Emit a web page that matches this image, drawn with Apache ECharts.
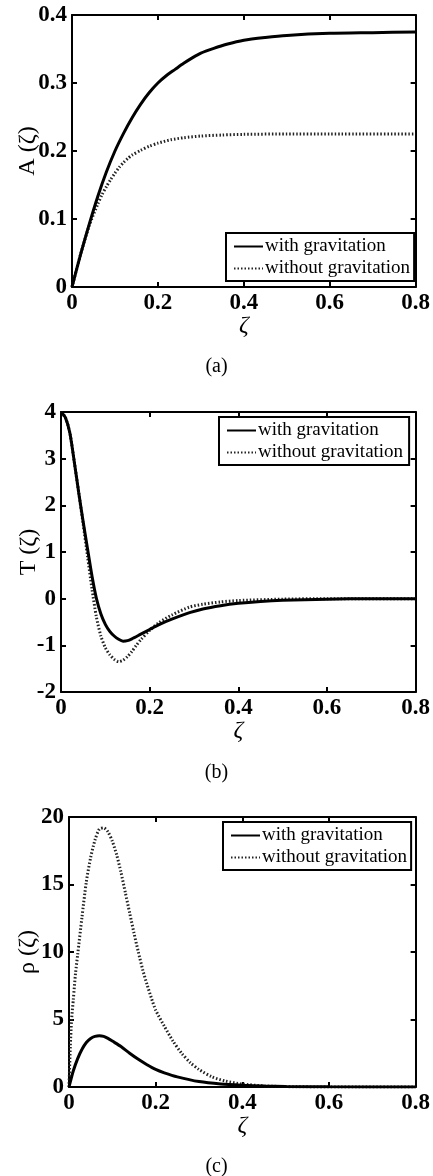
<!DOCTYPE html>
<html>
<head>
<meta charset="utf-8">
<script src="https://cdn.jsdelivr.net/npm/echarts@6/dist/echarts.min.js"></script>
<style>
  html, body { margin: 0; padding: 0; background: #fff; }
  #chart { width: 433px; height: 1176px; }
</style>
</head>
<body>
<div id="chart"></div>
<script>
// x tick labels shared by all panels
const zetaTicks = [0, 0.2, 0.4, 0.6, 0.8];
const seriesNames = ['with gravitation', 'without gravitation'];

// (a) A(zeta)
const aZetaWith = [0, 0.02, 0.04, 0.06, 0.08, 0.1, 0.12, 0.14, 0.16, 0.18, 0.2, 0.22, 0.24, 0.26, 0.28, 0.3, 0.33, 0.36, 0.4, 0.45, 0.5, 0.6, 0.7, 0.8];
const aWith = [0, 0.048, 0.092, 0.133, 0.169, 0.2, 0.226, 0.249, 0.269, 0.286, 0.3, 0.311, 0.32, 0.329, 0.337, 0.344, 0.351, 0.357, 0.363, 0.367, 0.37, 0.373, 0.374, 0.375];
const aZetaWithout = [0, 0.02, 0.04, 0.06, 0.07, 0.08, 0.09, 0.1, 0.11, 0.12, 0.13, 0.14, 0.16, 0.18, 0.2, 0.23, 0.26, 0.3, 0.35, 0.4, 0.5, 0.6, 0.8];
const aWithout = [0, 0.048, 0.09, 0.122, 0.136, 0.1475, 0.158, 0.1675, 0.176, 0.183, 0.189, 0.194, 0.201, 0.207, 0.2115, 0.2165, 0.2195, 0.222, 0.2235, 0.2245, 0.225, 0.225, 0.225];

// (b) T(zeta)
const bZetaWith = [0, 0.01, 0.02, 0.03, 0.04, 0.05, 0.06, 0.07, 0.08, 0.09, 0.1, 0.11, 0.12, 0.13, 0.14, 0.15, 0.16, 0.18, 0.2, 0.22, 0.25, 0.29, 0.32, 0.36, 0.4, 0.45, 0.5, 0.6, 0.7, 0.8];
const bWith = [4.0, 3.88, 3.55, 2.93, 2.27, 1.65, 1.06, 0.48, 0.0, -0.33, -0.55, -0.7, -0.8, -0.87, -0.91, -0.9, -0.86, -0.76, -0.66, -0.56, -0.44, -0.3, -0.22, -0.15, -0.1, -0.06, -0.035, -0.01, 0, 0];
const bZetaWithout = [0, 0.01, 0.02, 0.03, 0.04, 0.05, 0.06, 0.07, 0.08, 0.09, 0.1, 0.11, 0.12, 0.13, 0.14, 0.15, 0.16, 0.17, 0.18, 0.2, 0.22, 0.25, 0.29, 0.32, 0.36, 0.4, 0.5, 0.6, 0.8];
const bWithout = [4.0, 3.88, 3.55, 2.93, 2.27, 1.6, 0.9, 0.2, -0.4, -0.8, -1.05, -1.2, -1.3, -1.35, -1.32, -1.24, -1.13, -1.0, -0.88, -0.68, -0.52, -0.35, -0.18, -0.12, -0.07, -0.04, -0.01, 0, 0];

// (c) rho(zeta)
const cZetaWith = [0, 0.01, 0.02, 0.03, 0.04, 0.05, 0.06, 0.07, 0.08, 0.09, 0.1, 0.12, 0.14, 0.16, 0.18, 0.2, 0.22, 0.25, 0.3, 0.35, 0.4, 0.45, 0.5, 0.6, 0.8];
const cWith = [0, 1.2, 2.1, 2.8, 3.3, 3.6, 3.75, 3.8, 3.75, 3.6, 3.4, 3.0, 2.5, 2.05, 1.65, 1.3, 1.05, 0.75, 0.4, 0.22, 0.13, 0.07, 0.04, 0.01, 0];
const cZetaWithout = [0, 0.003, 0.006, 0.01, 0.015, 0.02, 0.03, 0.04, 0.05, 0.06, 0.07, 0.08, 0.09, 0.1, 0.11, 0.12, 0.13, 0.14, 0.15, 0.16, 0.17, 0.18, 0.19, 0.2, 0.22, 0.24, 0.26, 0.28, 0.3, 0.33, 0.36, 0.4, 0.45, 0.5, 0.6, 0.8];
const cWithout = [0, 3, 5, 6.5, 8.4, 9.8, 12.6, 15.2, 17.0, 18.3, 19.1, 19.2, 18.9, 18.2, 17.2, 15.9, 14.4, 12.9, 11.4, 10.0, 8.7, 7.6, 6.6, 5.7, 4.5, 3.4, 2.5, 1.8, 1.3, 0.75, 0.45, 0.22, 0.08, 0.03, 0, 0];

const FONT = 'Liberation Serif';

const chart = echarts.init(document.getElementById('chart'));

const zip = (xs, ys) => xs.map((x, i) => [x, ys[i]]);

const panels = [
  { grid: { left: 72, top: 15, width: 345, height: 272 }, yMin: 0, yMax: 0.4, yStep: 0.1, yName: 'A (ζ)', yNameGap: 32,
    legend: { left: 226, top: 233, padRight: 4 }, caption: { text: '(a)', top: 352 },
    with: zip(aZetaWith, aWith), without: zip(aZetaWithout, aWithout) },
  { grid: { left: 61, top: 412, width: 356, height: 280 }, yMin: -2, yMax: 4, yStep: 1, yName: 'T (ζ)', yNameGap: 20,
    legend: { left: 219, top: 417, padRight: 6 }, caption: { text: '(b)', top: 758 },
    with: zip(bZetaWith, bWith), without: zip(bZetaWithout, bWithout) },
  { grid: { left: 69, top: 817, width: 348, height: 270 }, yMin: 0, yMax: 20, yStep: 5, yName: 'ρ (ζ)', yNameGap: 29,
    legend: { left: 223, top: 822, padRight: 4 }, caption: { text: '(c)', top: 1152 },
    with: zip(cZetaWith, cWith), without: zip(cZetaWithout, cWithout) }
];

const grid = [], xAxis = [], yAxis = [], series = [], legend = [], title = [];

const axisLine = { show: true, onZero: false, lineStyle: { color: '#000', width: 2 } };
const axisTick = { show: true, inside: true, length: 5, lineStyle: { color: '#000', width: 2 } };
const tickFont = { color: '#000', fontFamily: FONT, fontSize: 23, fontWeight: 'bold' };

panels.forEach((p, i) => {
  grid.push(Object.assign({ containLabel: false }, p.grid));

  // bottom x axis with labels, top x axis only for the frame ticks
  xAxis.push({
    type: 'value', gridIndex: i, min: 0, max: 0.8, interval: 0.2, position: 'bottom',
    axisLine, axisTick, splitLine: { show: false },
    axisLabel: Object.assign({ margin: 5, formatter: v => zetaTicks.includes(v) ? String(v) : '' }, tickFont),
    name: 'ζ', nameLocation: 'middle', nameGap: 27, nameMoveOverlap: false,
    nameTextStyle: { color: '#000', fontFamily: FONT, fontSize: 24, fontStyle: 'italic' }
  });
  xAxis.push({
    type: 'value', gridIndex: i, min: 0, max: 0.8, interval: 0.2, position: 'top',
    axisLine, axisTick, splitLine: { show: false }, axisLabel: { show: false }
  });

  yAxis.push({
    type: 'value', gridIndex: i, min: p.yMin, max: p.yMax, interval: p.yStep, position: 'left',
    axisLine, axisTick, splitLine: { show: false },
    axisLabel: Object.assign({ margin: 5 }, tickFont),
    name: p.yName, nameLocation: 'middle', nameGap: p.yNameGap, nameRotate: 90, nameMoveOverlap: false,
    nameTextStyle: { color: '#000', fontFamily: FONT, fontSize: 24 }
  });
  yAxis.push({
    type: 'value', gridIndex: i, min: p.yMin, max: p.yMax, interval: p.yStep, position: 'right',
    axisLine, axisTick, splitLine: { show: false }, axisLabel: { show: false }
  });

  series.push({
    name: seriesNames[0], type: 'line', xAxisIndex: i * 2, yAxisIndex: i * 2,
    data: p.with, showSymbol: false, symbol: 'none', smooth: 0.25,
    lineStyle: { color: '#000', width: 3 }, itemStyle: { color: '#000' }, z: 3
  });
  series.push({
    name: seriesNames[1], type: 'line', xAxisIndex: i * 2, yAxisIndex: i * 2,
    data: p.without, showSymbol: false, symbol: 'none', smooth: 0.25,
    lineStyle: { color: '#222', width: 3, type: [1.5, 2] }, itemStyle: { color: '#222' }, z: 2
  });

  legend.push({
    data: seriesNames, orient: 'vertical', left: p.legend.left, top: p.legend.top,
    backgroundColor: '#fff', borderColor: '#000', borderWidth: 2, borderRadius: 0,
    padding: [4, p.legend.padRight, 3, 7], itemGap: 3, itemWidth: 29, itemHeight: 20,
    selectedMode: false,
    itemStyle: { opacity: 0 },
    textStyle: { color: '#000', fontFamily: FONT, fontSize: 19, padding: [0, 0, 0, -3] }
  });

  title.push({
    text: p.caption.text, left: 'center', top: p.caption.top,
    textStyle: { color: '#000', fontFamily: FONT, fontSize: 20, fontWeight: 'normal' }
  });
});

chart.setOption({
  animation: false,
  backgroundColor: '#fff',
  title, grid, xAxis, yAxis, series, legend
});
</script>
</body>
</html>
